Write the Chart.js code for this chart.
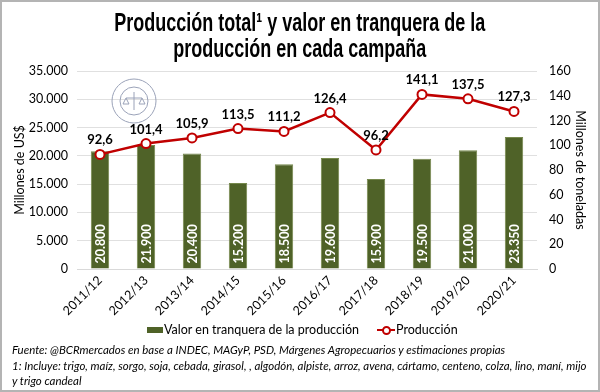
<!DOCTYPE html>
<html>
<head>
<meta charset="utf-8">
<script src="https://cdn.jsdelivr.net/npm/chart.js@4"></script>
<style>
	html, body { margin: 0; padding: 0; background: #fff; }
	#wrap { position: relative; width: 600px; height: 392px; box-sizing: border-box; border: 2px solid #b4b4b4; overflow: hidden; }
	canvas { position: absolute; left: -2px; top: -2px; }
	.linea { position: absolute; left: 0; width: 596px; text-align: center; white-space: nowrap; }
	.linea span { display: inline-block; transform-origin: center; }
	.titulo { font-family: "Liberation Sans", Arial, sans-serif; font-weight: bold; font-size: 25px; line-height: 26px; color: #000; }
	.titulo span { transform: scaleX(0.72); }
	.fuente { position: absolute; left: 10px; white-space: nowrap; font-family: Lato, sans-serif; font-style: italic; font-size: 11px; line-height: 15px; color: #000; transform-origin: left center; }
	.leyenda { position: absolute; top: 320px; font-family: Lato, sans-serif; font-size: 12.5px; line-height: 16px; color: #000; white-space: nowrap; }
	.caja { display: inline-block; width: 16px; height: 6px; background: #4f6228; vertical-align: middle; margin-right: 1px; position: relative; top: -1px; }
	.marca { display: inline-block; position: relative; width: 18px; height: 10px; vertical-align: middle; margin-right: 1px; top: -1px; }
	.marca:before { content: ""; position: absolute; left: 0; top: 4px; width: 18px; height: 2.5px; background: #c00000; }
	.marca:after { content: ""; position: absolute; left: 4.5px; top: 1px; width: 5px; height: 5px; border: 2px solid #c00000; border-radius: 50%; background: #fff; }
</style>
</head>
<body>
<div id="wrap">
	<canvas id="grafico" width="600" height="392"></canvas>
	<div class="linea titulo" style="top:7px"><span>Producción total¹ y valor en tranquera de la</span></div>
	<div class="linea titulo" style="top:33px"><span>producción en cada campaña</span></div>
	<div class="leyenda" style="left:145px"><span class="caja"></span>Valor en tranquera de la producción</div>
	<div class="leyenda" style="left:375px"><span class="marca"></span>Producción</div>
	<div class="fuente" id="f1" style="top:340px">Fuente: @BCRmercados en base a INDEC, MAGyP, PSD, Márgenes Agropecuarios y estimaciones propias</div>
	<div class="fuente" id="f2" style="top:356px">1: Incluye: trigo, maíz, sorgo, soja, cebada, girasol, , algodón, alpiste, arroz, avena, cártamo, centeno, colza, lino, maní, mijo</div>
	<div class="fuente" id="f3" style="top:371px">y trigo candeal</div>
</div>
<script>
	// campañas
	const campanias = ['2011/12', '2012/13', '2013/14', '2014/15', '2015/16', '2016/17', '2017/18', '2018/19', '2019/20', '2020/21'];
	// valor en tranquera (millones de US$)
	const valorTranquera = [20800, 21900, 20400, 15200, 18500, 19600, 15900, 19500, 21000, 23350];
	// producción (millones de toneladas)
	const produccion = [92.6, 101.4, 105.9, 113.5, 111.2, 126.4, 96.2, 141.1, 137.5, 127.3];

	const fmtMiles = v => v.toLocaleString('de-DE');
	const fmtDec = v => v.toFixed(1).replace('.', ',');

	// ajustar el ancho de la nota al pie (fuente angosta tipo Calibri)
	const f2 = document.getElementById('f2');
	const escala = 574 / f2.scrollWidth;
	['f1', 'f2', 'f3'].forEach(id => {
		document.getElementById(id).style.transform = 'scaleX(' + escala + ')';
	});

	// etiquetas dentro de las barras y sobre los puntos
	const etiquetas = {
		id: 'etiquetas',
		afterDatasetsDraw(chart) {
			const ctx = chart.ctx;
			const barras = chart.getDatasetMeta(0).data;
			ctx.save();
			ctx.fillStyle = '#fff';
			ctx.font = 'bold 12.5px Lato, sans-serif';
			ctx.textAlign = 'left';
			ctx.textBaseline = 'middle';
			barras.forEach((b, i) => {
				ctx.save();
				ctx.translate(b.x + 0.5, b.base - 5);
				ctx.rotate(-Math.PI / 2);
				ctx.fillText(fmtMiles(valorTranquera[i]), 0, 0);
				ctx.restore();
			});
			const puntos = chart.getDatasetMeta(1).data;
			ctx.fillStyle = '#000';
			ctx.font = 'bold 13px Lato, sans-serif';
			ctx.textAlign = 'center';
			ctx.textBaseline = 'alphabetic';
			puntos.forEach((p, i) => {
				ctx.fillText(fmtDec(produccion[i]), p.x, p.y - 10);
			});
			ctx.restore();
		}
	};

	// sello tenue de la Bolsa
	const sello = {
		id: 'sello',
		beforeDatasetsDraw(chart) {
			const ctx = chart.ctx;
			ctx.save();
			ctx.strokeStyle = '#9aa2b8';
			ctx.lineWidth = 1;
			ctx.beginPath();
			ctx.arc(134, 101, 22, 0, Math.PI * 2);
			ctx.stroke();
			ctx.beginPath();
			ctx.arc(134, 101, 14, 0, Math.PI * 2);
			ctx.stroke();
			// balanza
			ctx.beginPath();
			ctx.moveTo(126, 98); ctx.lineTo(142, 98);
			ctx.moveTo(134, 92); ctx.lineTo(134, 110);
			ctx.moveTo(126, 98); ctx.lineTo(123, 104); ctx.lineTo(129, 104); ctx.closePath();
			ctx.moveTo(142, 98); ctx.lineTo(139, 104); ctx.lineTo(145, 104); ctx.closePath();
			ctx.stroke();
			ctx.restore();
		}
	};

	const fuenteEje = { family: 'Lato, sans-serif', size: 12.5 };

	const ctx = document.getElementById('grafico').getContext('2d');
	const chart = new Chart(ctx, {
		type: 'bar',
		data: {
			labels: campanias,
			datasets: [
				{
					type: 'bar',
					label: 'Valor en tranquera de la producción',
					data: valorTranquera,
					backgroundColor: '#4f6228',
					borderColor: '#75884c',
					borderWidth: 1,
					barPercentage: 0.5,
					categoryPercentage: 0.8,
					yAxisID: 'y',
					order: 2
				},
				{
					type: 'line',
					label: 'Producción',
					data: produccion,
					borderColor: '#c00000',
					backgroundColor: '#ffffff',
					borderWidth: 2.5,
					pointRadius: 4.5,
					pointBorderWidth: 2,
					pointBackgroundColor: '#ffffff',
					pointBorderColor: '#c00000',
					yAxisID: 'y1',
					order: 1
				}
			]
		},
		options: {
			responsive: false,
			animation: false,
			layout: { padding: { top: 71, bottom: 73, left: 8, right: 8 } },
			plugins: {
				legend: { display: false },
				tooltip: { enabled: false }
			},
			scales: {
				x: {
					grid: { display: false, drawTicks: false },
					border: { color: '#d9d9d9' },
					afterFit(scale) { scale.height = 50; },
					ticks: {
						color: '#000',
						font: fuenteEje,
						padding: 4,
						maxRotation: 45,
						minRotation: 45
					}
				},
				y: {
					position: 'left',
					min: 0,
					max: 35000,
					afterFit(scale) { scale.width = 69; },
					ticks: {
						stepSize: 5000,
						color: '#000',
						font: fuenteEje,
						padding: 9,
						callback: v => fmtMiles(v)
					},
					grid: { color: '#e0e0e0', drawTicks: false },
					border: { display: false },
					title: { display: true, text: 'Millones de US$', color: '#000', font: fuenteEje }
				},
				y1: {
					position: 'right',
					min: 0,
					max: 160,
					afterFit(scale) { scale.width = 55; },
					ticks: {
						stepSize: 20,
						color: '#000',
						font: fuenteEje,
						padding: 12
					},
					grid: { display: false, drawTicks: false },
					border: { display: false },
					title: { display: true, text: 'Millones de toneladas', color: '#000', font: fuenteEje }
				}
			}
		},
		plugins: [sello, etiquetas]
	});
</script>
</body>
</html>
